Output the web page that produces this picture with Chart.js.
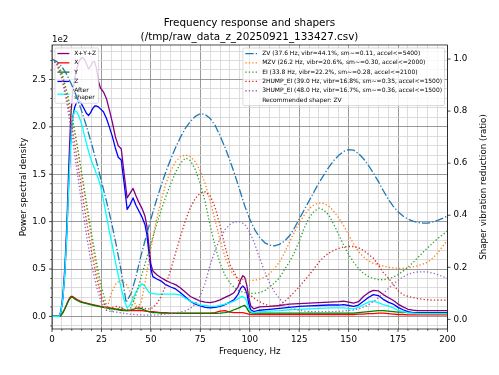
<!DOCTYPE html>
<html><head><meta charset="utf-8">
<script src="https://cdn.jsdelivr.net/npm/chart.js@4.4.1/dist/chart.umd.min.js"></script>
<style>html,body{margin:0;padding:0;background:#fff}canvas{display:block}</style>
</head><body>
<canvas id="c" width="499" height="375" style="width:499px;height:375px"></canvas>
<script>
const titleLines = ['Frequency response and shapers', '(/tmp/raw_data_z_20250921_133427.csv)'];
const xTickLabels = [0, 25, 50, 75, 100, 125, 150, 175, 200];
const yLeftTickValues = [0, 50, 100, 150, 200, 250];   // shown as 0.0 .. 2.5 with 1e2 offset
const yRightTickValues = [0, 0.2, 0.4, 0.6, 0.8, 1.0];

const psdLabels = ['X+Y+Z', 'X', 'Y', 'Z', 'After\nshaper'];
const shaperLabels = [
  'ZV (37.6 Hz, vibr=44.1%, sm~=0.11, accel<=5400)',
  'MZV (26.2 Hz, vibr=20.6%, sm~=0.30, accel<=2000)',
  'EI (33.8 Hz, vibr=22.2%, sm~=0.28, accel<=2100)',
  '2HUMP_EI (39.0 Hz, vibr=16.8%, sm~=0.35, accel<=1500)',
  '3HUMP_EI (48.0 Hz, vibr=16.7%, sm~=0.36, accel<=1500)'
];
const recommendedLabel = 'Recommended shaper: ZV';

const freqs = [0,2,3.5,4.5,5.5,6.5,7.5,8.5,9.5,10.5,11.5,12.5,13.5,14.5,15.5,16.5,17.5,18.5,19.5,20.5,21.5,22.5,23.5,24.5,26,27.5,29,30.5,32,33.5,35,36.5,38,39.5,41,42.5,44,45.5,47,48,49,50,51,53,55,57.5,60,62.5,65,67.5,70,72.5,75,77.5,80,82.5,85,87.5,90,92,94,95.5,96.5,97.5,98.5,99.5,100.5,102,105,110,115,120,125,130,135,140,145,147.5,150,152.5,155,157.5,160,162.5,165,167.5,170,172.5,175,177.5,180,182.5,185,190,195,200];
const psdXYZ = [0,0,0,5,22,52,97,160,212,237,251,261,268,272,273,271,266,261,264,268,269,262,248,241,237,230,218,205,190,180,177,150,125,130,135,127,120,114,106,95,75,55,48,44,41,38,35.5,33.5,30,25.5,21,18.5,16,15,14.5,15.5,17.5,20,22.5,25,31,39,43,41,33,20,11,8,10,10.5,11.5,13,13.5,14,14.5,15,15.5,16,15,14,15.5,21,25,27.5,27,23,20,17,13,10,7.5,6.5,6,6,6,6];
const psdX = [0,0,0,1,4,8,13,18,21,21,19.5,18,17,16,15,14.5,14,13.5,13,12.5,12,11.5,11,10.5,10,9.5,9,8.5,8,7.5,7,6.5,6,6,6,6,6.5,6,5.5,5.5,5,5,5,4.5,4,4,3.5,3.5,3.5,3.5,3.5,3.5,3.5,3.5,3.5,4,5.5,6,4.5,4,4,4,4,3.5,3,2.5,2,2,2,2,2,2,2,2,2,2,2,2,2,2,2.5,2.5,3,3,3.5,3.5,3,2.5,2,2,1.5,1.5,1.5,1.5,1.5,1.5];
const psdY = [0,0,0,1,4,8,12.5,17,20,20,18.5,17,16,15,14.5,14,13.5,13,12.5,12,11.5,11,10.5,10,9.5,9,8.5,8,7.5,7,6.5,6,6,6.5,7.5,8.5,9,8,6.5,5.5,5,4.5,4,4,3.5,3.5,3.2,3.2,3.2,3.2,3.2,3.2,3.2,3.2,3.2,3.2,3.5,4,5,7,8.5,10,11,11.5,9,5,4,3.5,3.5,3.5,3.5,3.5,3.5,3.5,3.5,3.5,3.5,3.5,3.5,3.5,4,4.5,5,5.5,6,6,5.5,5,4.5,4.5,4,4,4,4,4,4];
const psdZ = [0,0,0,5,19,46,88,143,188,210,221,226,228,226,222,218,214,212,215,219,222,222,221,219,216,209,200,190,178,168,165,140,113,118,125,117,111,105,97,86,67,50,42,39.5,37.5,33.5,31,29,25,20.5,16,13,11,9.5,9,9.5,10.5,12.5,15,17.5,23,30,32,30,25,13,7,5,6.5,7.5,8.5,9.5,10.5,11,11.5,12,12,12.5,11.5,10.5,12,16,20,23,22,18,15,13,9.5,7,5,4,3.5,3.5,3.5,3.5];
const psdAfter = [0,0,0,5,19,46,86,140,184,210,217,216,212,206,199,190,182,174,167,161,156,150,145,138,123,106,90,75,58,43,30,17,9,12,19,26,31,34.5,32,28.5,25.5,24.5,24,23.5,23.5,23.5,23.5,23.5,22.5,19,16,14,12,11.5,10.5,10.5,11.5,13,14.5,16,18.5,20.5,21,19.5,16,8,5,4,5,5.5,6,7,7.5,8,8.5,9,9,9,8.5,8,9.5,12.5,15,16,14.5,12.5,11,9,6.5,5,4,3.5,3,3,3,3];

const shaperFreqs = [0,2.5,5,7.5,10,12.5,15,17.5,20,22.5,25,27.5,30,32.5,35,37.5,40,42.5,45,47.5,50,52.5,55,57.5,60,62.5,65,67.5,70,72.5,75,77.5,80,82.5,85,87.5,90,92.5,95,97.5,100,102.5,105,107.5,110,112.5,115,117.5,120,122.5,125,127.5,130,132.5,135,137.5,140,142.5,145,147.5,150,152.5,155,157.5,160,162.5,165,167.5,170,172.5,175,177.5,180,182.5,185,187.5,190,192.5,195,197.5,200];
const zvVals = [1.0,.99,.97,.94,.90,.855,.80,.74,.675,.605,.53,.455,.375,.285,.185,.065,.10,.165,.245,.315,.385,.45,.51,.565,.615,.66,.70,.735,.76,.78,.79,.787,.772,.745,.705,.66,.61,.555,.495,.435,.385,.345,.315,.295,.285,.282,.288,.30,.32,.35,.385,.42,.455,.49,.525,.555,.585,.61,.63,.645,.652,.65,.637,.617,.592,.562,.53,.495,.462,.435,.413,.397,.385,.377,.372,.37,.37,.374,.38,.388,.397];
const mzvVals = [1.0,.985,.945,.875,.785,.675,.555,.43,.31,.195,.09,.035,.10,.14,.15,.135,.10,.05,.06,.16,.27,.37,.45,.52,.57,.605,.625,.632,.625,.605,.57,.52,.455,.38,.305,.24,.19,.165,.155,.152,.15,.15,.155,.162,.175,.195,.22,.255,.295,.335,.37,.40,.425,.44,.447,.445,.435,.415,.39,.36,.325,.29,.26,.24,.225,.215,.21,.205,.20,.198,.196,.196,.198,.202,.206,.212,.22,.235,.255,.28,.305];
const eiVals = [1.0,.985,.945,.875,.785,.68,.565,.445,.33,.22,.125,.055,.03,.04,.045,.035,.045,.095,.16,.225,.29,.355,.415,.47,.52,.565,.60,.62,.61,.575,.52,.45,.36,.28,.215,.17,.14,.12,.108,.103,.10,.10,.103,.11,.125,.14,.16,.19,.22,.255,.30,.35,.39,.415,.427,.42,.40,.365,.325,.285,.25,.22,.195,.177,.165,.157,.153,.152,.155,.162,.172,.185,.20,.218,.237,.257,.275,.293,.31,.325,.34];
const hump2Vals = [1.0,.98,.93,.85,.745,.625,.50,.375,.26,.16,.085,.045,.045,.05,.045,.035,.035,.045,.048,.04,.04,.055,.085,.13,.19,.255,.32,.38,.43,.465,.485,.49,.475,.43,.36,.28,.21,.175,.14,.115,.095,.08,.068,.058,.052,.05,.055,.068,.085,.105,.125,.148,.17,.195,.22,.24,.255,.265,.273,.278,.28,.28,.275,.265,.25,.235,.21,.18,.16,.135,.11,.095,.088,.084,.08,.077,.075,.074,.074,.074,.074];
const hump3Vals = [1.0,.98,.925,.83,.71,.58,.445,.32,.21,.125,.065,.035,.03,.028,.025,.022,.02,.018,.017,.016,.016,.017,.018,.02,.022,.025,.028,.033,.042,.06,.09,.14,.21,.265,.31,.345,.365,.375,.375,.365,.335,.29,.235,.185,.14,.105,.08,.06,.048,.04,.035,.032,.03,.03,.03,.03,.03,.03,.031,.032,.034,.036,.04,.047,.056,.068,.083,.10,.118,.135,.15,.163,.173,.179,.182,.183,.182,.178,.172,.165,.157];

const FONT = 'DejaVu Sans';
const LW = 1.3;
const DOTTED = [1.3, 2.15];
const DASHDOT = [8.3, 2.1, 1.3, 2.1];

function pts(xs, ys) { return xs.map((x, i) => ({x: x, y: ys[i]})); }

const psdSeries = [psdXYZ, psdX, psdY, psdZ, psdAfter];
const psdColors = ['#800080', '#ff0000', '#008000', '#0000ff', '#00ffff'];
const psdOrder = [11, 10, 9, 8, 7];
const shaperSeries = [zvVals, mzvVals, eiVals, hump2Vals, hump3Vals];
const shaperColors = ['#1f77b4', '#ff7f0e', '#2ca02c', '#d62728', '#9467bd'];
const shaperDash = [DASHDOT, DOTTED, DOTTED, DOTTED, DOTTED];

const datasets = [];
psdSeries.forEach((s, i) => datasets.push({
  label: psdLabels[i], data: pts(freqs, s), yAxisID: 'y', order: psdOrder[i],
  borderColor: psdColors[i], borderWidth: LW, pointRadius: 0, tension: 0, fill: false,
  borderJoinStyle: 'round', borderCapStyle: 'butt'
}));
shaperSeries.forEach((s, i) => datasets.push({
  label: shaperLabels[i], data: pts(shaperFreqs, s), yAxisID: 'y2', order: 5 - i,
  borderColor: shaperColors[i], borderWidth: LW, pointRadius: 0, tension: 0, fill: false,
  borderDash: shaperDash[i], borderCapStyle: 'butt', borderJoinStyle: 'round'
}));

function drawLegend(chart, items, side) {
  const ctx = chart.ctx, a = chart.chartArea;
  const fs = 6, pad = 2.4, hl = 12, htp = 4.8, rowH = 6.3, sp = 3, lineGap = 7;
  ctx.save();
  ctx.font = fs + 'px "' + FONT + '"';
  let maxW = 0, totalH = 0;
  items.forEach((it, i) => {
    const lines = it.label.split('\n');
    lines.forEach(l => { maxW = Math.max(maxW, ctx.measureText(l).width); });
    it._h = rowH + (lines.length - 1) * lineGap;
    totalH += it._h + (i ? sp : 0);
  });
  const w = pad + hl + htp + maxW + pad, h = pad * 2 + totalH;
  const left = side === 'left' ? a.left + 3 : a.right - 3 - w;
  const top = a.top + 3;
  ctx.beginPath();
  if (ctx.roundRect) ctx.roundRect(left, top, w, h, 1.2); else ctx.rect(left, top, w, h);
  ctx.fillStyle = 'rgba(255,255,255,0.8)';
  ctx.fill();
  ctx.lineWidth = 0.87;
  ctx.strokeStyle = 'rgba(204,204,204,0.8)';
  ctx.stroke();
  let y = top + pad;
  items.forEach(it => {
    const lines = it.label.split('\n');
    const cy = y + it._h / 2;
    if (it.color) {
      ctx.beginPath();
      ctx.setLineDash(it.dash || []);
      ctx.strokeStyle = it.color;
      ctx.lineWidth = LW;
      ctx.lineCap = 'butt';
      ctx.moveTo(left + pad, cy);
      ctx.lineTo(left + pad + hl, cy);
      ctx.stroke();
      ctx.setLineDash([]);
    }
    ctx.fillStyle = '#000';
    ctx.textBaseline = 'middle';
    ctx.textAlign = 'left';
    lines.forEach((l, k) => ctx.fillText(l, left + pad + hl + htp, y + rowH / 2 + k * lineGap));
    y += it._h + sp;
  });
  ctx.restore();
}

const leftItems = psdLabels.map((l, i) => ({label: l, color: psdColors[i]}));
const rightItems = shaperLabels.map((l, i) => ({label: l, color: shaperColors[i], dash: shaperDash[i]}))
  .concat([{label: recommendedLabel, color: null}]);

const overlay = {
  id: 'overlay',
  afterDatasetDraw(chart, args) {
    if (args.index === 4) drawLegend(chart, leftItems, 'left');
  },
  afterDatasetsDraw(chart) {
    const ctx = chart.ctx, a = chart.chartArea;
    const xs = chart.scales.x, yl = chart.scales.y, yr = chart.scales.y2;
    ctx.save();
    ctx.strokeStyle = '#000';
    ctx.lineWidth = 0.7;
    ctx.strokeRect(a.left, a.top, a.right - a.left, a.bottom - a.top);
    ctx.beginPath();
    for (let v = 0; v <= 200; v += 5) {
      const px = xs.getPixelForValue(v), len = (v % 25 === 0) ? 3 : 1.7;
      ctx.moveTo(px, a.bottom); ctx.lineTo(px, a.bottom + len);
    }
    for (let v = -10; v <= 280; v += 10) {
      const py = yl.getPixelForValue(v), len = (v % 50 === 0) ? 3 : 1.7;
      ctx.moveTo(a.left - len, py); ctx.lineTo(a.left, py);
    }
    yRightTickValues.forEach(v => {
      const py = yr.getPixelForValue(v);
      ctx.moveTo(a.right, py); ctx.lineTo(a.right + 3, py);
    });
    ctx.stroke();
    ctx.restore();
    drawLegend(chart, rightItems, 'right');
  },
  afterDraw(chart) {
    const ctx = chart.ctx, a = chart.chartArea;
    ctx.save();
    ctx.fillStyle = '#000';
    ctx.font = '8.7px "' + FONT + '"';
    ctx.textAlign = 'left';
    ctx.textBaseline = 'middle';
    ctx.fillText('1e2', a.left, 40);
    ctx.translate(483.7, (a.top + a.bottom) / 2);
    ctx.rotate(-Math.PI / 2);
    ctx.textAlign = 'center';
    ctx.fillText('Shaper vibration reduction (ratio)', 0, 0);
    ctx.restore();
  }
};

Chart.defaults.font.family = FONT;
Chart.defaults.color = '#000';

new Chart(document.getElementById('c'), {
  type: 'line',
  data: { datasets: datasets },
  options: {
    responsive: false, animation: false, devicePixelRatio: 1,
    layout: { padding: 0 },
    plugins: {
      legend: { display: false },
      tooltip: { enabled: false },
      title: { display: true, text: titleLines, color: '#000',
        font: { family: FONT, size: 10.4, weight: 'normal', lineHeight: 1.35 },
        padding: { top: 16, bottom: 0.9 } }
    },
    scales: {
      x: {
        type: 'linear', min: 0, max: 200,
        afterBuildTicks: s => { const t = []; for (let v = 0; v <= 200; v += 5) t.push({value: v}); s.ticks = t; },
        ticks: { autoSkip: false, maxRotation: 0, padding: 5.1, color: '#000', font: { family: FONT, size: 8.7 },
          callback: v => xTickLabels.includes(v) ? String(v) : '' },
        grid: { color: c => (c.tick && c.tick.value % 25 === 0) ? '#808080' : '#d3d3d3', lineWidth: 0.8, drawTicks: false },
        border: { display: false },
        title: { display: true, text: 'Frequency, Hz', color: '#000', font: { family: FONT, size: 8.7 }, padding: { top: 0, bottom: 18.1 } },
        afterFit: s => { s.height = 46; }
      },
      y: {
        type: 'linear', position: 'left', min: -13.3, max: 286.4,
        afterBuildTicks: s => { const t = []; for (let v = -10; v <= 280; v += 10) t.push({value: v}); s.ticks = t; },
        ticks: { autoSkip: false, padding: 6, color: '#000', font: { family: FONT, size: 8.7 },
          callback: v => yLeftTickValues.includes(v) ? (v / 100).toFixed(1) : '' },
        grid: { color: c => (c.tick && c.tick.value % 50 === 0) ? '#808080' : '#d3d3d3', lineWidth: 0.8, drawTicks: false },
        border: { display: false },
        title: { display: true, text: 'Power spectral density', color: '#000', font: { family: FONT, size: 8.7 }, padding: { top: 18.3, bottom: 0 } },
        afterFit: s => { s.width = 52; }
      },
      y2: {
        type: 'linear', position: 'right', min: -0.037, max: 1.054,
        afterBuildTicks: s => { s.ticks = yRightTickValues.map(v => ({value: v})); },
        ticks: { autoSkip: false, padding: 6, color: '#000', font: { family: FONT, size: 8.7 }, callback: v => v.toFixed(1) },
        grid: { display: false, drawTicks: false },
        border: { display: false },
        afterFit: s => { s.width = 51.5; }
      }
    }
  },
  plugins: [overlay]
});
</script>
</body></html>
